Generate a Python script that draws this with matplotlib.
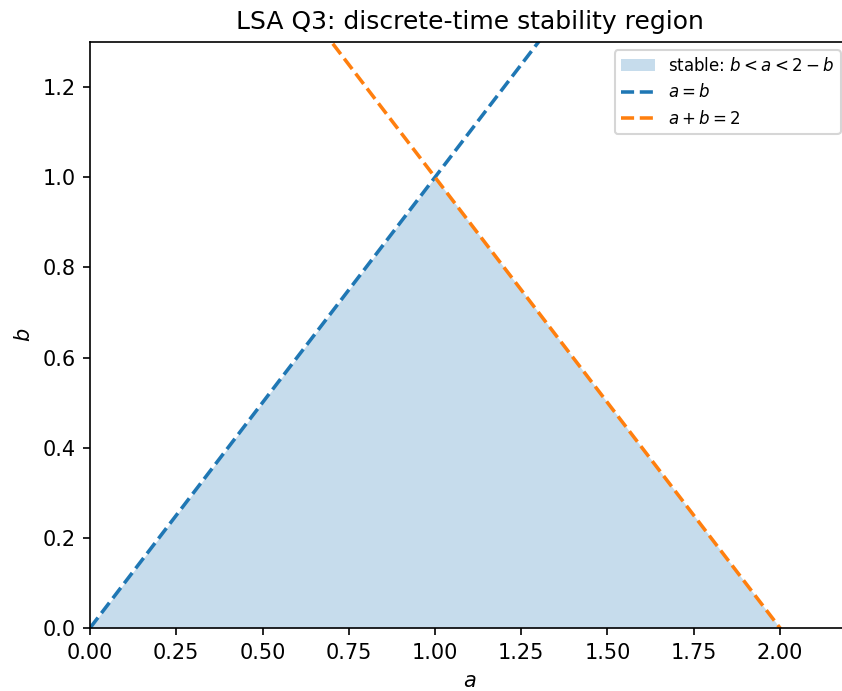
import matplotlib
matplotlib.use("Agg")
import matplotlib.pyplot as plt
import numpy as np

# region corners (a, b) and boundary lines
region_a = [0.0, 1.0, 2.0]
region_b = [0.0, 1.0, 0.0]
line_a = [0.0, 2.2]
diag_b = [0.0, 2.2]        # a = b
anti_b = [2.0, -0.2]       # a + b = 2

fig = plt.figure(figsize=(842 / 150, 691 / 150), dpi=150)
# right spine falls just outside the canvas in the reference (tight crop)
ax = fig.add_axes([90 / 842, 1 - 628 / 691, 759 / 842, 586 / 691])

ax.fill_between(region_a, 0, region_b, color="tab:blue", alpha=0.25, lw=0,
                label=r"stable: $b < a < 2 - b$")
ax.plot(line_a, diag_b, "--", color="tab:blue", lw=1.7, label=r"$a = b$")
ax.plot(line_a, anti_b, "--", color="tab:orange", lw=1.7, label=r"$a + b = 2$")

ax.set_xlim(0, 2.2)
ax.set_ylim(0, 1.3)
ax.set_xlabel(r"$a$")
ax.set_ylabel(r"$b$")
ax.set_title("LSA Q3: discrete-time stability region")
ax.legend(loc="upper right", fontsize=8)

fig.savefig("out.png", dpi=150)
